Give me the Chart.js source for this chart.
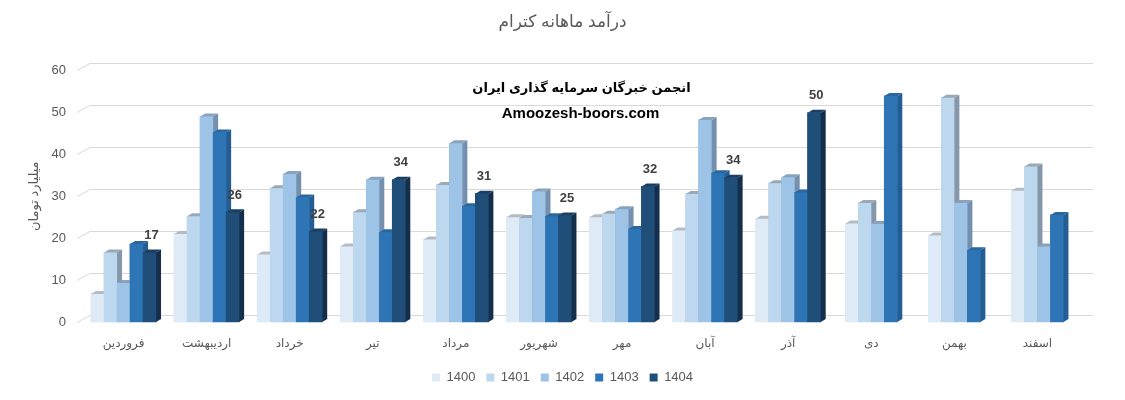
<!DOCTYPE html>
<html>
<head>
<meta charset="utf-8">
<script src="https://cdn.jsdelivr.net/npm/chart.js@4.4.0/dist/chart.umd.min.js"></script>
<style>
    html, body { margin: 0; padding: 0; background: #fff; }
</style>
</head>
<body>
<canvas id="myChart" width="1125" height="400"></canvas>
<script>
const months = ['فروردین', 'اردیبهشت', 'خرداد', 'تیر', 'مرداد', 'شهریور', 'مهر', 'آبان', 'آذر', 'دی', 'بهمن', 'اسفند'];
const years = ['1400', '1401', '1402', '1403', '1404'];

const y1400 = [6.7, 21.0, 16.1, 18.0, 19.7, 25.0, 25.0, 21.8, 24.6, 23.5, 20.6, 31.3];
const y1401 = [16.6, 25.2, 31.9, 26.2, 32.7, 24.8, 25.8, 30.5, 33.1, 28.4, 53.5, 37.1];
const y1402 = [9.3, 49.0, 35.3, 33.9, 42.6, 31.1, 26.9, 48.2, 34.5, 23.4, 28.4, 18.0];
const y1403 = [18.6, 45.2, 29.7, 21.4, 27.6, 25.2, 22.2, 35.5, 30.9, 53.9, 17.1, 25.5];
const y1404 = [16.6, 26.2, 21.6, 33.9, 30.6, 25.4, 32.3, 34.4, 49.9, null, null, null];

const yTicks = [0, 10, 20, 30, 40, 50, 60];

const frontColors = ['#deebf7', '#bdd7ee', '#9dc3e6', '#2e75b6', '#1f4e79'];
const sideColors  = ['#a9b4bf', '#8697aa', '#7590ae', '#245d93', '#142f4b'];
const topColors   = ['#b3bcc5', '#9aa8b7', '#8aa2bd', '#2a679f', '#1a3f63'];

const grey = '#595959';
const font = "'Liberation Sans', 'DejaVu Sans', sans-serif";
const depthX = 5, depthY = 3;

const series = [y1400, y1401, y1402, y1403, y1404];

// back wall grid lines, a little up and right of the front
const wallGrid = {
    id: 'wallGrid',
    beforeDatasetsDraw(chart) {
        const ctx = chart.ctx;
        const y = chart.scales.y;
        const area = chart.chartArea;
        ctx.save();
        ctx.strokeStyle = '#d9d9d9';
        ctx.lineWidth = 1;
        yTicks.forEach((v) => {
            const py = Math.round(y.getPixelForValue(v)) + 0.5;
            ctx.beginPath();
            ctx.moveTo(area.left - 5, py);
            ctx.lineTo(area.left + 8, py - 7);
            ctx.lineTo(area.right + 14, py - 7);
            ctx.stroke();
        });
        ctx.restore();
    }
};

// redraw bars left to right inside each cluster, with side and top faces
const bar3d = {
    id: 'bar3d',
    afterDatasetsDraw(chart) {
        const ctx = chart.ctx;
        ctx.save();
        series.forEach((values, i) => {
            const meta = chart.getDatasetMeta(i);
            meta.data.forEach((bar, j) => {
                if (values[j] == null) return;
                bar.draw(ctx);
                const p = bar.getProps(['x', 'y', 'base', 'width']);
                const l = p.x - p.width / 2, r = p.x + p.width / 2;
                ctx.fillStyle = sideColors[i];
                ctx.beginPath();
                ctx.moveTo(r, p.y);
                ctx.lineTo(r + depthX, p.y - depthY);
                ctx.lineTo(r + depthX, p.base - depthY);
                ctx.lineTo(r, p.base);
                ctx.closePath();
                ctx.fill();
                ctx.fillStyle = topColors[i];
                ctx.beginPath();
                ctx.moveTo(l, p.y);
                ctx.lineTo(l + depthX, p.y - depthY);
                ctx.lineTo(r + depthX, p.y - depthY);
                ctx.lineTo(r, p.y);
                ctx.closePath();
                ctx.fill();
            });
        });
        ctx.restore();
    }
};

// numbers over the 1404 bars and the watermark text
const labels = {
    id: 'labels',
    afterDatasetsDraw(chart) {
        const ctx = chart.ctx;
        const meta = chart.getDatasetMeta(4);
        ctx.save();
        ctx.fillStyle = '#404040';
        ctx.font = 'bold 13px ' + font;
        ctx.textAlign = 'center';
        ctx.textBaseline = 'middle';
        meta.data.forEach((bar, j) => {
            const v = y1404[j];
            if (v == null) return;
            ctx.fillText(Math.round(v), bar.x + 2, bar.y - 17);
        });
        const area = chart.chartArea;
        const cx = (area.left + area.right) / 2;
        ctx.fillStyle = '#000';
        ctx.font = 'bold 13px ' + font;
        ctx.fillText('انجمن خبرگان سرمایه گذاری ایران', cx + 1, area.top + 18);
        ctx.font = 'bold 15px ' + font;
        ctx.fillText('Amoozesh-boors.com', cx, area.top + 43);
        ctx.restore();
    }
};

const ctx = document.getElementById('myChart').getContext('2d');
const myChart = new Chart(ctx, {
    type: 'bar',
    data: {
        labels: months,
        datasets: series.map((values, i) => ({
            label: years[i],
            data: values,
            backgroundColor: frontColors[i],
            borderWidth: 0,
            barThickness: 13,
            skipNull: true,
        })),
    },
    options: {
        responsive: false,
        animation: false,
        layout: { padding: { left: 0, right: 0, top: 0, bottom: 6 } },
        plugins: {
            title: {
                display: true,
                text: 'درآمد ماهانه کترام',
                color: grey,
                font: { family: font, size: 17, weight: 'normal' },
                padding: { top: 12, bottom: 38 },
            },
            legend: {
                position: 'bottom',
                labels: {
                    color: grey,
                    font: { family: font, size: 13 },
                    boxWidth: 8,
                    boxHeight: 8,
                    padding: 11,
                },
            },
            tooltip: { enabled: false },
        },
        scales: {
            x: {
                grid: { display: false },
                border: { display: false },
                ticks: { color: grey, font: { family: font, size: 12 }, padding: 6, maxRotation: 0, autoSkip: false },
                afterFit(s) { s.height = 38; },
            },
            y: {
                min: 0,
                max: 60,
                grid: { display: false },
                border: { display: false },
                ticks: { stepSize: 10, color: grey, font: { family: font, size: 13 }, padding: 8 },
                title: { display: true, text: 'میلیارد تومان', color: grey, font: { family: font, size: 13 }, padding: { top: 27, bottom: 0 } },
                afterFit(s) { s.width = 82; },
            },
            // empty right-hand margin, as in the original
            yRight: {
                position: 'right',
                min: 0,
                max: 60,
                grid: { display: false },
                border: { display: false },
                ticks: { display: false },
                afterFit(s) { s.width = 46; },
            },
        },
    },
    plugins: [wallGrid, bar3d, labels],
});
</script>
</body>
</html>
